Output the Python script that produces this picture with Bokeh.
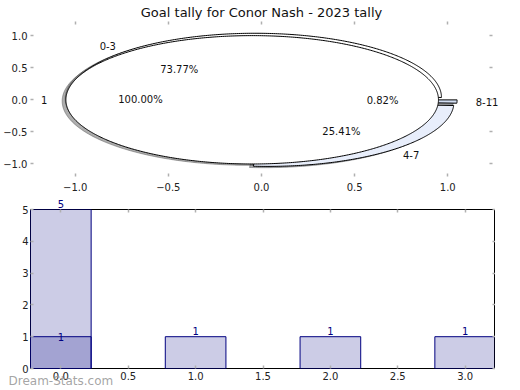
import numpy as np
from bokeh.plotting import figure
from bokeh.models import (Range1d, LinearAxis, FixedTicker, PrintfTickFormatter,
                          CustomJSTickFormatter, ColumnDataSource)
from bokeh.layouts import column
from bokeh.embed import file_html
from bokeh.resources import INLINE
from bokeh.core.properties import value

# ---------------- data ----------------
TITLE = "Goal tally for Conor Nash - 2023 tally"
outer_labels = ["0-3", "4-7", "8-11"]
outer_pcts = [73.77, 25.41, 0.82]
inner_labels = ["1"]
inner_pcts = [100.00]

bar_x = [0, 1, 2, 3]
bar_totals = [5, 1, 1, 1]
bar_highlight = [1, 0, 0, 0]
x_ticks = [0.0, 0.5, 1.0, 1.5, 2.0, 2.5, 3.0]
y_ticks = [0, 1, 2, 3, 4, 5]
pie_ticks = [-1.0, -0.5, 0.0, 0.5, 1.0]
WATERMARK = "Dream-Stats.com"

# ---------------- styles ----------------
FONT = "DejaVu Sans"
outer_colors = ["#ffffff", "#e8eefb", "#d3dff4"]
inner_colors = ["#ffffff"]
EXPLODE = 0.05
RADIUS = 1.0
SHADOW_OFF = 0.02
TICK_GRAY = "#b0b0b0"


def shadow_color(hexcol):
    h = hexcol.lstrip("#")
    r, g, b = (int(h[i:i + 2], 16) for i in (0, 2, 4))
    return "#%02x%02x%02x" % (int(r * 0.3), int(g * 0.3), int(b * 0.3))


def pie_parts(pcts, labels, colors):
    fr = np.array(pcts, dtype=float) / float(sum(pcts))
    t = 0.0
    parts = []
    for f, lab, col, pct in zip(fr, labels, colors, pcts):
        t1, t2 = t, t + f * 2 * np.pi
        mid = 0.5 * (t1 + t2)
        cx, cy = EXPLODE * np.cos(mid), EXPLODE * np.sin(mid)
        n = max(int(f * 600), 6)
        th = np.linspace(t1, t2, n)
        xs = cx + RADIUS * np.cos(th)
        ys = cy + RADIUS * np.sin(th)
        if f < 0.9999:
            xs = np.concatenate([[cx], xs, [cx]])
            ys = np.concatenate([[cy], ys, [cy]])
        lx = cx + 1.1 * RADIUS * np.cos(mid)
        ly = cy + 1.1 * RADIUS * np.sin(mid)
        px = cx + 0.6 * RADIUS * np.cos(mid)
        py = cy + 0.6 * RADIUS * np.sin(mid)
        parts.append(dict(xs=list(xs), ys=list(ys), color=col, label=lab,
                          pct="%.2f%%" % pct, lx=lx, ly=ly, px=px, py=py,
                          align="left" if lx > 0 else "right"))
        t = t2
    return parts


outer = pie_parts(outer_pcts, outer_labels, outer_colors)
inner = pie_parts(inner_pcts, inner_labels, inner_colors)

blank_fmt = CustomJSTickFormatter(code="return '';")


def style_axis(ax, labels=True, standoff=3):
    ax.axis_line_color = None
    ax.major_tick_in = 3
    ax.major_tick_out = 0
    ax.major_tick_line_color = TICK_GRAY
    ax.major_tick_line_width = 1.5
    ax.minor_tick_line_color = None
    ax.major_label_text_font = FONT
    ax.major_label_text_color = "#222222"
    ax.major_label_text_font_size = "10px"
    ax.major_label_standoff = standoff
    if not labels:
        ax.formatter = blank_fmt
        ax.major_label_standoff = 0


minus_fmt = CustomJSTickFormatter(code="return tick.toFixed(1).replace('-', '\u2212');")

# ---------------- top: nested pie ----------------
p1 = figure(frame_width=462, frame_height=155,
            x_range=Range1d(-1.24, 1.24), y_range=Range1d(-1.195, 1.22),
            output_backend="svg", toolbar_location=None,
            min_border_left=0, min_border_right=21, min_border_top=0, min_border_bottom=0)
p1.title.text = TITLE
p1.title.align = "center"
p1.title.text_font = FONT
p1.title.text_font_size = "13px"
p1.title.text_font_style = "normal"
p1.title.text_color = "#111111"
p1.title.standoff = 4
p1.outline_line_color = None
p1.grid.visible = False
p1.xaxis.ticker = FixedTicker(ticks=pie_ticks)
p1.yaxis.ticker = FixedTicker(ticks=pie_ticks)
p1.xaxis.formatter = minus_fmt
p1.yaxis.formatter = minus_fmt
style_axis(p1.xaxis[0], standoff=6)
style_axis(p1.yaxis[0])
ax_top = LinearAxis(ticker=FixedTicker(ticks=pie_ticks))
style_axis(ax_top, labels=False)
p1.add_layout(ax_top, "above")
ax_right = LinearAxis(ticker=FixedTicker(ticks=pie_ticks))
style_axis(ax_right, labels=False)
p1.add_layout(ax_right, "right")

allparts = outer + inner
# shadows underneath everything
p1.patches(xs=[[x - SHADOW_OFF for x in w["xs"]] for w in allparts],
           ys=[[y - SHADOW_OFF for y in w["ys"]] for w in allparts],
           fill_color=[shadow_color(w["color"]) for w in allparts],
           line_color=[shadow_color(w["color"]) for w in allparts],
           fill_alpha=0.45, line_alpha=0.45, line_width=1)
for group in (outer, inner):
    p1.patches(xs=[w["xs"] for w in group], ys=[w["ys"] for w in group],
               fill_color=[w["color"] for w in group], line_color="black", line_width=1)

txt = ColumnDataSource(dict(
    x=[w["lx"] for w in allparts] + [w["px"] for w in allparts],
    y=[w["ly"] for w in allparts] + [w["py"] for w in allparts],
    t=[w["label"] for w in allparts] + [w["pct"] for w in allparts],
    a=[w["align"] for w in allparts] + ["center"] * len(allparts),
))
p1.text(x="x", y="y", text="t", text_align="a", text_baseline="middle",
        text_font=value(FONT), text_font_size="10px", text_color="#111111",
        source=txt, level="overlay")

# ---------------- bottom: bars ----------------
X0, X1 = -0.225, 3.225
p2 = figure(frame_width=465, frame_height=159,
            x_range=Range1d(X0, X1), y_range=Range1d(0, 5),
            output_backend="svg", toolbar_location=None,
            min_border_left=0, min_border_right=19, min_border_top=16, min_border_bottom=20)
p2.grid.visible = False
p2.outline_line_color = "black"
p2.outline_line_width = 1
p2.xaxis.ticker = FixedTicker(ticks=x_ticks)
p2.xaxis.formatter = PrintfTickFormatter(format="%.1f")
p2.yaxis.ticker = FixedTicker(ticks=y_ticks)
style_axis(p2.xaxis[0])
style_axis(p2.yaxis[0], standoff=2)
ax2_top = LinearAxis(ticker=FixedTicker(ticks=x_ticks))
style_axis(ax2_top, labels=False)
p2.add_layout(ax2_top, "above")
ax2_right = LinearAxis(ticker=FixedTicker(ticks=y_ticks))
style_axis(ax2_right, labels=False)
p2.add_layout(ax2_right, "right")

src_tot = ColumnDataSource(dict(x=bar_x, top=bar_totals, lab=[str(v) for v in bar_totals]))
hx = [x for x, v in zip(bar_x, bar_highlight) if v > 0]
hv = [v for v in bar_highlight if v > 0]
src_hi = ColumnDataSource(dict(x=hx, top=hv, lab=[str(v) for v in hv]))

p2.vbar(x="x", top="top", width=0.45, source=src_tot,
        fill_color="navy", fill_alpha=0.2, line_color="navy", line_width=1)
p2.vbar(x="x", top="top", width=0.45, source=src_hi,
        fill_color="navy", fill_alpha=0.2, line_color="navy", line_width=1)

p2.text(x="x", y="top", text="lab", source=src_tot, text_align="center",
        text_baseline="bottom", y_offset=-2, text_color="navy",
        text_font=value(FONT), text_font_size="10px", level="overlay")
p2.text(x="x", y="top", text="lab", source=src_hi, text_align="center",
        text_baseline="middle", text_color="navy",
        text_font=value(FONT), text_font_size="10px", level="overlay")

# watermark, just left of / below the frame
px_per_x = 465 / (X1 - X0)
px_per_y = 159 / 5.0
p2.text(x=[X0 - 22 / px_per_x], y=[-12 / px_per_y], text=[WATERMARK],
        text_align="left", text_baseline="middle", text_color="#9a9a9a", text_alpha=0.9,
        text_font=value(FONT), text_font_size="12px", level="overlay")

layout = column(p1, p2, spacing=0)
open("out.html", "w").write(file_html(layout, INLINE, title=TITLE))
